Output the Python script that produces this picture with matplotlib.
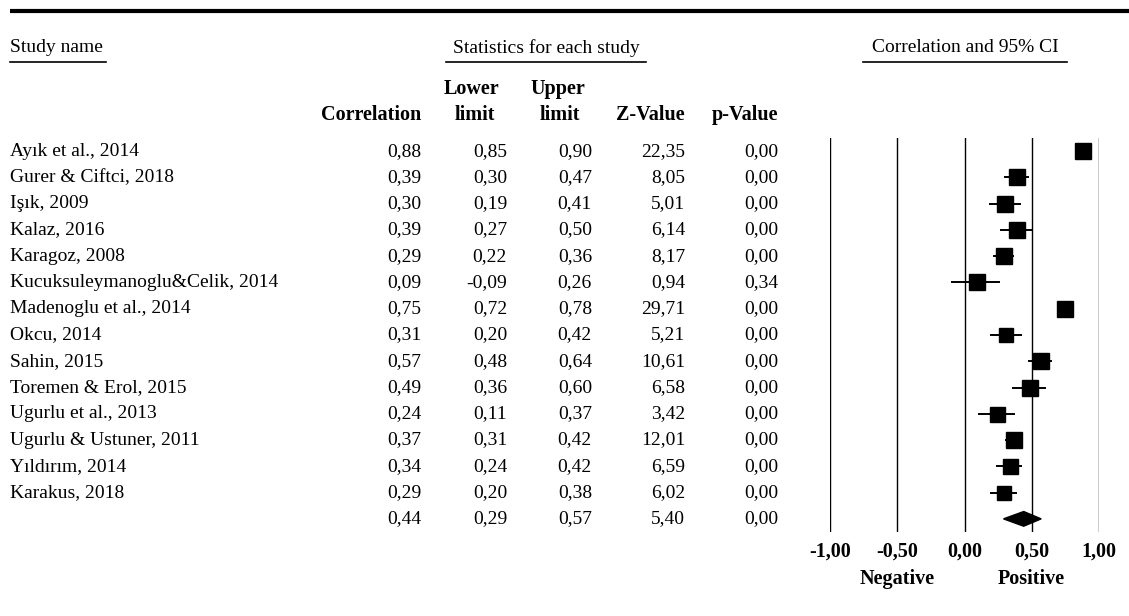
import matplotlib
matplotlib.use("Agg")
import matplotlib.pyplot as plt
from matplotlib.transforms import blended_transform_factory
from matplotlib.patches import Polygon

# ---------------- data ----------------
studies = ["Ayık et al., 2014", "Gurer & Ciftci, 2018", "Işık, 2009", "Kalaz, 2016",
           "Karagoz, 2008", "Kucuksuleymanoglu&Celik, 2014", "Madenoglu et al., 2014",
           "Okcu, 2014", "Sahin, 2015", "Toremen & Erol, 2015", "Ugurlu et al., 2013",
           "Ugurlu & Ustuner, 2011", "Yıldırım, 2014", "Karakus, 2018"]
correlation = [0.88, 0.39, 0.30, 0.39, 0.29, 0.09, 0.75, 0.31, 0.57, 0.49, 0.24, 0.37, 0.34, 0.29]
lower_limit = [0.85, 0.30, 0.19, 0.27, 0.22, -0.09, 0.72, 0.20, 0.48, 0.36, 0.11, 0.31, 0.24, 0.20]
upper_limit = [0.90, 0.47, 0.41, 0.50, 0.36, 0.26, 0.78, 0.42, 0.64, 0.60, 0.37, 0.42, 0.42, 0.38]
z_value = [22.35, 8.05, 5.01, 6.14, 8.17, 0.94, 29.71, 5.21, 10.61, 6.58, 3.42, 12.01, 6.59, 6.02]
p_value = [0.00, 0.00, 0.00, 0.00, 0.00, 0.34, 0.00, 0.00, 0.00, 0.00, 0.00, 0.00, 0.00, 0.00]

summary_corr, summary_lower, summary_upper = 0.44, 0.29, 0.57
summary_z, summary_p = 5.40, 0.00

tick_values = [-1.0, -0.5, 0.0, 0.5, 1.0]

# marker box sizes (px) per study (style)
box_px = [15.7, 16.5, 15.7, 16, 16, 15.3, 16, 14, 16, 16, 15, 15.5, 15, 14.7]

W, H = 1129, 616
DPI = 100
fig = plt.figure(figsize=(W / DPI, H / DPI), dpi=DPI)
fig.patch.set_facecolor("white")

SERIF = ["Liberation Serif", "DejaVu Serif"]
FS = 14.0
FSB = 14.5

def fmt(v):
    return f"{v:.2f}".replace(".", ",")

# forest plot axes: x -1 at px 830, +1 at px 1099 ; y rows, px 138..532
x0, x1 = 830, 1099
ytop, ybot = 138, 532
n = len(studies)
fax = fig.add_axes([x0 / W, 1 - ybot / H, (x1 - x0) / W, (ybot - ytop) / H])
fax.set_xlim(-1.0, 1.0)
fax.set_ylim(n + 0.5, -0.5)
for s in fax.spines.values():
    s.set_visible(False)
fax.set_yticks([])
fax.set_xticks(tick_values)
fax.set_xticklabels([fmt(t) for t in tick_values], fontfamily=SERIF,
                    fontweight="bold", fontsize=FSB)
fax.tick_params(axis="x", length=0, pad=7)
fax.patch.set_alpha(0)
for t in tick_values:
    fax.axvline(t, color="black", lw=1.0, zorder=1)

px2pt = 72 / DPI
for i in range(n):
    fax.plot([lower_limit[i], upper_limit[i]], [i, i], color="black", lw=1.4, zorder=2)
    fax.plot(correlation[i], i, marker="s", color="black", markersize=box_px[i] * px2pt,
             zorder=3)

# summary diamond
dh = 0.28
diamond = Polygon([[summary_lower, n], [summary_corr, n - dh], [summary_upper, n],
                   [summary_corr, n + dh]], closed=True, facecolor="black",
                  edgecolor="black", zorder=3)
fax.add_patch(diamond)

# background overlay for text in pixel coords
bg = fig.add_axes([0, 0, 1, 1], zorder=-1)
bg.set_xlim(0, W)
bg.set_ylim(H, 0)
bg.axis("off")

# top rule
bg.plot([10, W], [11, 11], color="black", lw=3.0, solid_capstyle="butt")

# section headers with underlines
bg.text(10, 48, "Study name", fontfamily=SERIF, fontsize=FS, ha="left", va="center")
bg.plot([10, 106], [62, 62], color="black", lw=1.2)
bg.text(546, 48, "Statistics for each study", fontfamily=SERIF, fontsize=FS,
        ha="center", va="center")
bg.plot([446, 646], [62, 62], color="black", lw=1.2)
bg.text(965, 48, "Correlation and 95% CI", fontfamily=SERIF, fontsize=FS,
        ha="center", va="center")
bg.plot([863, 1067], [62, 62], color="black", lw=1.2)

# column headers
hkw = dict(fontfamily=SERIF, fontsize=FSB, fontweight="bold", va="center")
bg.text(421, 115, "Correlation", ha="right", **hkw)
bg.text(472, 89, "Lower", ha="center", **hkw)
bg.text(475, 115, "limit", ha="center", **hkw)
bg.text(558, 89, "Upper", ha="center", **hkw)
bg.text(560, 115, "limit", ha="center", **hkw)
bg.text(685, 115, "Z-Value", ha="right", **hkw)
bg.text(778, 115, "p-Value", ha="right", **hkw)

# table rows: x in pixels, y in forest row coords
tr = blended_transform_factory(bg.transData, fax.transData)
col_x = [421, 507, 592, 685, 778]
rkw = dict(fontfamily=SERIF, fontsize=FS, va="center", transform=tr)
for i in range(n):
    bg.text(10, i, studies[i], ha="left", **rkw)
    vals = [correlation[i], lower_limit[i], upper_limit[i], z_value[i], p_value[i]]
    for cx, v in zip(col_x, vals):
        bg.text(cx, i, fmt(v), ha="right", **rkw)
svals = [summary_corr, summary_lower, summary_upper, summary_z, summary_p]
for cx, v in zip(col_x, svals):
    bg.text(cx, n, fmt(v), ha="right", **rkw)

# Negative / Positive labels
bg.text(897, 579, "Negative", ha="center", **hkw)
bg.text(1031, 579, "Positive", ha="center", **hkw)

fig.savefig("out.png", dpi=DPI, facecolor="white")
